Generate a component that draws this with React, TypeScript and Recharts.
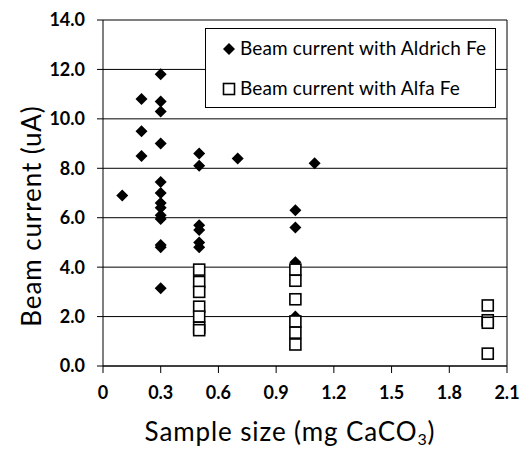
import React from "react";
import {
  ScatterChart,
  Scatter,
  XAxis,
  YAxis,
  CartesianGrid,
  ReferenceLine,
  Label,
} from "recharts";

// Beam current with Aldrich Fe
const aldrichSize = [
  0.1,
  0.2, 0.2, 0.2,
  0.3, 0.3, 0.3, 0.3, 0.3, 0.3, 0.3, 0.3, 0.3, 0.3, 0.3, 0.3, 0.3,
  0.5, 0.5, 0.5, 0.5, 0.5, 0.5,
  0.7,
  1.0, 1.0, 1.0, 1.0, 1.0,
  1.1,
];
const aldrichCurrent = [
  6.9,
  10.8, 9.5, 8.5,
  11.8, 10.7, 10.3, 9.0, 7.45, 7.0, 6.6, 6.4, 6.1, 5.95, 4.9, 4.8, 3.15,
  8.6, 8.1, 5.7, 5.5, 5.0, 4.8,
  8.4,
  6.3, 5.6, 4.2, 2.0, 1.4,
  8.2,
];

// Beam current with Alfa Fe
const alfaSize = [
  0.5, 0.5, 0.5, 0.5, 0.5, 0.5, 0.5,
  1.0, 1.0, 1.0, 1.0, 1.0, 1.0,
  2.0, 2.0, 2.0, 2.0,
];
const alfaCurrent = [
  3.9, 3.4, 3.0, 2.4, 2.0, 1.55, 1.45,
  3.9, 3.45, 2.7, 1.8, 1.35, 0.87,
  2.45, 1.85, 1.75, 0.5,
];

const xTicks = [0, 0.3, 0.6, 0.9, 1.2, 1.5, 1.8, 2.1];
const yTicks = [0, 2, 4, 6, 8, 10, 12, 14];

const seriesNames = ["Beam current with Aldrich Fe", "Beam current with Alfa Fe"];
const xTitle = "Sample size (mg CaCO";
const xTitleSub = "3";
const xTitleEnd = ")";
const yTitle = "Beam current (uA)";

const aldrichData = aldrichSize.map((x, i) => ({ x, y: aldrichCurrent[i] }));
const alfaData = alfaSize.map((x, i) => ({ x, y: alfaCurrent[i] }));

const FONT = "Lato, 'Open Sans', sans-serif";

const Diamond = (props: any) => {
  const { cx, cy } = props;
  const r = 6;
  return (
    <path
      d={`M${cx},${cy - r} L${cx + r},${cy} L${cx},${cy + r} L${cx - r},${cy} Z`}
      fill="#000"
      stroke="none"
    />
  );
};

const Square = (props: any) => {
  const { cx, cy } = props;
  const s = 11;
  return (
    <rect
      x={cx - s / 2}
      y={cy - s / 2}
      width={s}
      height={s}
      fill="#fff"
      stroke="#000"
      strokeWidth={1.6}
    />
  );
};

const LegendBox = () => (
  <div
    style={{
      position: "absolute",
      left: 205,
      top: 28,
      width: 289,
      height: 78,
      border: "1.6px solid #000",
      background: "#fff",
      fontFamily: FONT,
      fontSize: 19,
      letterSpacing: 0.15,
      color: "#000",
      boxSizing: "content-box",
    }}
  >
    <svg width={14} height={14} style={{ position: "absolute", left: 16, top: 13 }}>
      <path d="M7,1 L13,7 L7,13 L1,7 Z" fill="#000" />
    </svg>
    <div style={{ position: "absolute", left: 34, top: 7, whiteSpace: "nowrap" }}>{seriesNames[0]}</div>
    <svg width={14} height={14} style={{ position: "absolute", left: 16, top: 53 }}>
      <rect x={1.5} y={1.5} width={11} height={11} fill="#fff" stroke="#000" strokeWidth={1.6} />
    </svg>
    <div style={{ position: "absolute", left: 34, top: 47, whiteSpace: "nowrap" }}>{seriesNames[1]}</div>
  </div>
);

const XTitle = (props: any) => {
  const { viewBox } = props;
  const cx = viewBox.x + viewBox.width / 2 - 15;
  return (
    <text
      x={cx}
      y={441}
      textAnchor="middle"
      fontFamily={FONT}
      fontSize={26}
      letterSpacing={0.9}
      fill="#000"
    >
      {xTitle}
      <tspan fontSize={16} dy={4}>{xTitleSub}</tspan>
      <tspan dy={-4}>{xTitleEnd}</tspan>
    </text>
  );
};

const YTitle = () => (
  <text
    x={0}
    y={0}
    transform="translate(41,216) rotate(-90)"
    textAnchor="middle"
    fontFamily={FONT}
    fontSize={26}
    letterSpacing={0.9}
    fill="#000"
  >
    {yTitle}
  </text>
);

export default function App() {
  return (
    <div style={{ position: "absolute", left: 0, top: 0, width: 521, height: 449, background: "#fff" }}>
      <ScatterChart
        width={521}
        height={449}
        margin={{ top: 20, right: 14, bottom: 53, left: 43 }}
        style={{ fontFamily: FONT }}
      >
        <CartesianGrid vertical={false} stroke="#000" strokeWidth={1} />
        <XAxis
          type="number"
          dataKey="x"
          domain={[0, 2.1]}
          ticks={xTicks}
          tickFormatter={(v: number) => (v === 0 ? "0" : v.toFixed(1))}
          stroke="#000"
          tickSize={7}
          height={30}
          tick={{ fill: "#000", fontSize: 18, fontWeight: 700, fontFamily: FONT }}
          tickMargin={13}
          interval={0}
          allowDataOverflow
        >
          <Label content={<XTitle />} />
        </XAxis>
        <YAxis
          type="number"
          dataKey="y"
          domain={[0, 14]}
          ticks={yTicks}
          tickFormatter={(v: number) => v.toFixed(1)}
          stroke="#000"
          tickSize={6}
          width={60}
          tick={{ fill: "#000", fontSize: 18, fontWeight: 700, fontFamily: FONT }}
          tickMargin={12}
          interval={0}
        >
          <Label content={<YTitle />} />
        </YAxis>
        <ReferenceLine x={2.1} stroke="#000" strokeWidth={1} />
        <Scatter
          name={seriesNames[0]}
          data={aldrichData}
          shape={<Diamond />}
          isAnimationActive={false}
        />
        <Scatter
          name={seriesNames[1]}
          data={alfaData}
          shape={<Square />}
          isAnimationActive={false}
        />
      </ScatterChart>
      <LegendBox />
    </div>
  );
}
